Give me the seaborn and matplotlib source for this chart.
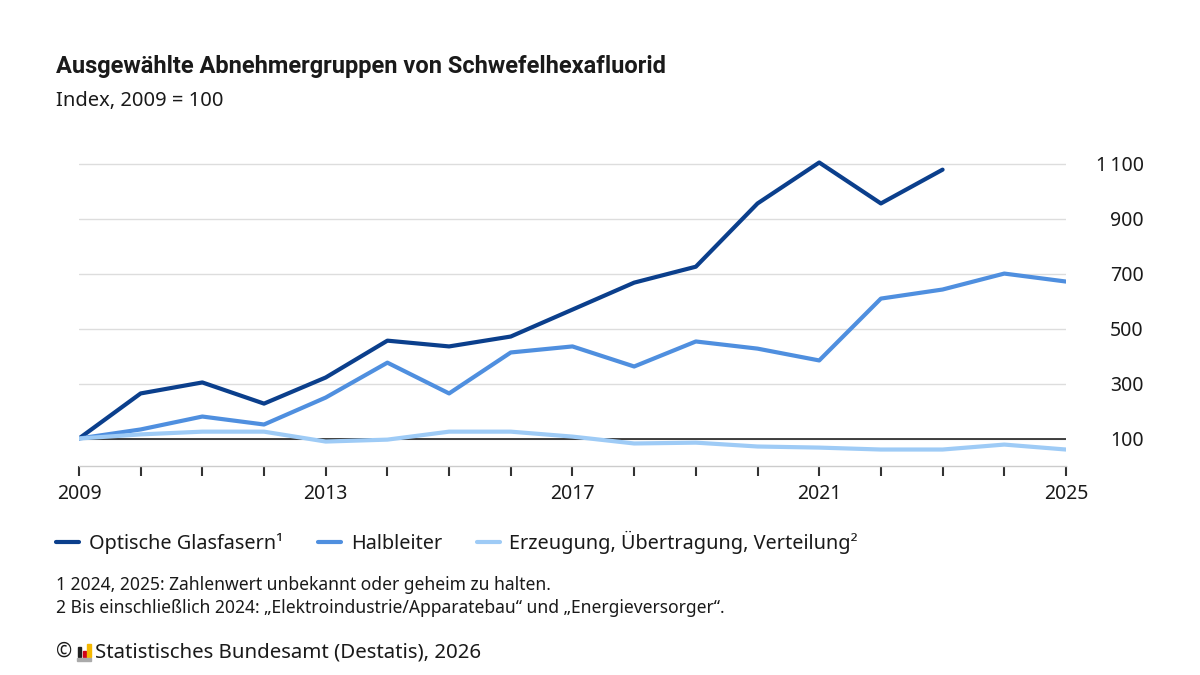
import pandas as pd
import numpy as np
import matplotlib.pyplot as plt
import seaborn as sns
from matplotlib.ticker import FuncFormatter
from matplotlib.patches import Rectangle

# Index values, 2009 = 100
years = list(range(2009, 2026))
glasfasern = [100, 264, 304, 227, 322, 456, 435, 471, 569, 667, 725, 955, 1104, 955, 1078, np.nan, np.nan]
halbleiter = [100, 133, 180, 151, 249, 376, 264, 413, 435, 362, 453, 427, 384, 609, 642, 700, 671]
erzeugung = [100, 115, 125, 125, 89, 96, 125, 125, 107, 82, 85, 71, 67, 60, 60, 78, 60]

names = ['Optische Glasfasern\u00b9', 'Halbleiter', 'Erzeugung, \u00dcbertragung, Verteilung\u00b2']
colors = ['#0b3f8c', '#4f8fdf', '#9ecbf6']
y_ticks = [100, 300, 500, 700, 900, 1100]
x_labels = [2009, 2013, 2017, 2021, 2025]

df = pd.DataFrame({'Jahr': years, names[0]: glasfasern, names[1]: halbleiter, names[2]: erzeugung})
df = df.melt(id_vars='Jahr', var_name='Gruppe', value_name='Index')

sns.set_theme(style='white')
plt.rcParams['font.family'] = ['Noto Sans', 'DejaVu Sans']
txt = '#1a1a1a'

fig = plt.figure(figsize=(12, 6.75), dpi=100)
ax = fig.add_axes([0.0658, 0.3096, 0.8225, 0.4684])

sns.lineplot(data=df, x='Jahr', y='Index', hue='Gruppe', hue_order=names,
             palette=dict(zip(names, colors)), linewidth=3, ax=ax)
ax.axhline(100, color='#111111', lw=1.1, zorder=1.5)

ax.set_xlim(2009, 2025)
ax.set_ylim(0, 1150)
ax.set_xlabel('')
ax.set_ylabel('')

ax.yaxis.tick_right()
ax.set_yticks(y_ticks)
ax.yaxis.set_major_formatter(FuncFormatter(lambda v, p: f'{int(v):,}'.replace(',', '\u2009')))
ax.tick_params(axis='y', length=0, pad=56, labelsize=14, labelcolor=txt)
for lab in ax.get_yticklabels():
    lab.set_horizontalalignment('right')
ax.grid(axis='y', color='#dddddd', lw=1)

ax.set_xticks(years)
ax.set_xticklabels([str(y) if y in x_labels else '' for y in years])
ax.tick_params(axis='x', length=7, width=1.5, color='#333333', pad=6, labelsize=14,
               labelcolor=txt, bottom=True)

for s in ['top', 'left', 'right']:
    ax.spines[s].set_visible(False)
ax.spines['bottom'].set_color('#cccccc')
ax.spines['bottom'].set_linewidth(1)

sns.move_legend(ax, 'center left', bbox_to_anchor=(0.047, 0.197), bbox_transform=fig.transFigure,
                ncol=3, frameon=False, title=None, fontsize=14.3, handlelength=1.15,
                handletextpad=0.5, columnspacing=1.75, borderaxespad=0, borderpad=0)
for t in ax.get_legend().get_texts():
    t.set_color(txt)

fig.text(0.047, 0.902, 'Ausgew\u00e4hlte Abnehmergruppen von Schwefelhexafluorid',
         fontsize=17, fontweight='bold', family=['Roboto', 'DejaVu Sans'], color=txt, va='center')
fig.text(0.047, 0.851, 'Index, 2009 = 100', fontsize=14.5, color=txt, va='center')

fig.text(0.047, 0.133, '1 2024, 2025: Zahlenwert unbekannt oder geheim zu halten.',
         fontsize=12.6, color=txt, va='center')
fig.text(0.047, 0.099, '2 Bis einschlie\u00dflich 2024: \u201eElektroindustrie/Apparatebau\u201c und \u201eEnergieversorger\u201c.',
         fontsize=12.6, color=txt, va='center')

fig.text(0.047, 0.034, '\u00a9', fontsize=14, color=txt, va='center')
# small Destatis logo bars
for x0, h, c in [(0.0648, 0.016, '#222222'), (0.0688, 0.010, '#d0021b'), (0.0728, 0.020, '#f5b800')]:
    fig.add_artist(Rectangle((x0, 0.026), 0.0028, h, transform=fig.transFigure, color=c))
fig.add_artist(Rectangle((0.0645, 0.021), 0.0115, 0.004, transform=fig.transFigure, color='#aaaaaa'))
fig.text(0.079, 0.034, 'Statistisches Bundesamt (Destatis), 2026', fontsize=14.7, color=txt, va='center')

fig.savefig('out.png', dpi=100)
